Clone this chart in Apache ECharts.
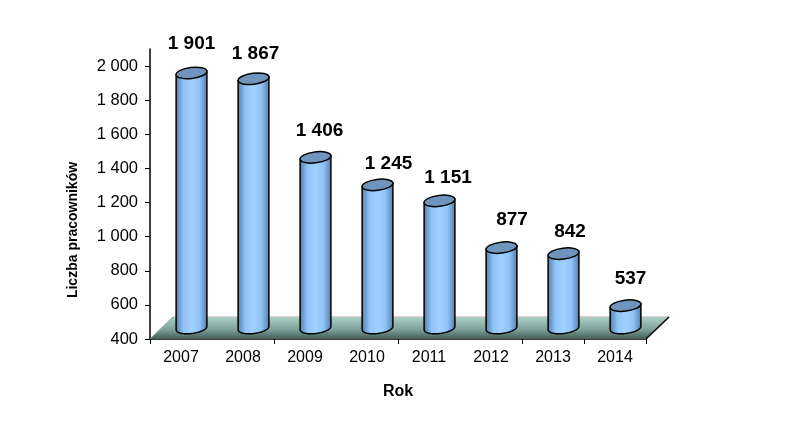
<!DOCTYPE html>
<html><head><meta charset="utf-8">
<style>html,body{margin:0;padding:0;background:#fff}#c{width:792px;height:439px}</style>
<script src="https://cdn.jsdelivr.net/npm/echarts@6/dist/echarts.min.js"></script>
</head><body><div id="c"></div>
<script>
const years = ['2007','2008','2009','2010','2011','2012','2013','2014'];
const employees = [1901,1867,1406,1245,1151,877,842,537];
const yTicks = [400,600,800,1000,1200,1400,1600,1800,2000];
const axisBase = 400;

const FONT = '"Liberation Sans", Arial, sans-serif';
const depth = {x: 23, y: 22};
const barShift = {x: 10.5, y: -10, baseY: -11};
const RX = 15.5, RY = 5.5, TILT = -7 * Math.PI / 180;
// hand placement of the value labels relative to the bar tops, as in the source
const labelNudge = [[0,-29],[2,-25],[4,-27],[11,-21],[8.5,-23],[10.5,-28],[6.5,-22],[5,-27]];

const fmt = v => String(v).replace(/\B(?=(\d{3})+$)/g, ' ');

function ellipsePt(cx, cy, t) {
  const ex = RX * Math.cos(t), ey = RY * Math.sin(t);
  return [cx + ex * Math.cos(TILT) - ey * Math.sin(TILT), cy + ex * Math.sin(TILT) + ey * Math.cos(TILT)];
}

function renderFloor(params, api) {
  const band = api.size([1, 0])[0];
  const c0 = api.coord([0, axisBase]), cN = api.coord([years.length - 1, axisBase]);
  const L = c0[0] - band / 2, R = cN[0] + band / 2, Y = c0[1];
  return {type: 'group', children: [
    {type: 'polygon', shape: {points: [[L,Y],[R,Y],[R+depth.x,Y-depth.y],[L+depth.x,Y-depth.y]]},
      style: {fill: {type:'linear',x:0,y:0,x2:0,y2:1,colorStops:[{offset:0,color:'#a9cfc7'},{offset:.55,color:'#7fa39b'},{offset:1,color:'#42605a'}]}, stroke:'none'}},
    {type: 'line', shape: {x1:L+depth.x,y1:Y-depth.y,x2:R+depth.x,y2:Y-depth.y}, style:{stroke:'#c4c4c4',lineWidth:1.5}},
    {type: 'line', shape: {x1:L,y1:Y,x2:L+depth.x,y2:Y-depth.y}, style:{stroke:'#8a9a96',lineWidth:1}},
    {type: 'line', shape: {x1:R,y1:Y,x2:R+depth.x,y2:Y-depth.y}, style:{stroke:'#000',lineWidth:1.5}}
  ]};
}

function renderCyl(params, api) {
  const i = api.value(0), v = api.value(1);
  const top = api.coord([i, v]), base = api.coord([i, axisBase]);
  const cx = top[0] + barShift.x, ty = top[1] + barShift.y, by = base[1] + barShift.baseY;
  const pts = [];
  pts.push(ellipsePt(cx, ty, Math.PI));
  for (let k = 0; k <= 40; k++) pts.push(ellipsePt(cx, by, Math.PI - k / 40 * Math.PI));
  pts.push(ellipsePt(cx, ty, 0));
  const n = labelNudge[i];
  return {type: 'group', children: [
    {type: 'polygon', shape: {points: pts},
      style: {fill: {type:'linear',x:0,y:0,x2:1,y2:0,colorStops:[
        {offset:0,color:'#4f7bab'},{offset:.25,color:'#8fc2f6'},{offset:.5,color:'#a3d1ff'},{offset:.75,color:'#8fc2f6'},{offset:1,color:'#4f7bab'}]},
        stroke:'#000', lineWidth:1.5}},
    {type: 'ellipse', x: cx, y: ty, rotation: -TILT, shape: {cx:0,cy:0,rx:RX,ry:RY},
      style: {fill:'#6f95bd', stroke:'#000', lineWidth:1.5}},
    {type: 'text', style: {text: fmt(v), x: cx + n[0], y: ty + n[1], fill:'#000', font: 'bold 19px ' + FONT, textAlign:'center', textVerticalAlign:'middle'}}
  ]};
}

const chart = echarts.init(document.getElementById('c'), null, {renderer:'canvas'});
chart.setOption({
  animation:false,
  backgroundColor:'#fff',
  grid:{left:150,right:146,top:49,bottom:100},
  graphic:[{type:'text',rotation:Math.PI/2,x:73,y:230,
    style:{text:'Liczba pracowników',fill:'#000',font:'bold 14px '+FONT,textAlign:'center',textVerticalAlign:'middle'}}],
  xAxis:{type:'category',data:years,
    name:'Rok',nameLocation:'middle',nameGap:45,
    nameTextStyle:{color:'#000',fontFamily:FONT,fontWeight:'bold',fontSize:16},
    axisLine:{lineStyle:{color:'#000',width:1.5}},
    axisTick:{show:true,interval:1,length:5,lineStyle:{color:'#000'}},
    axisLabel:{interval:0,color:'#000',fontFamily:FONT,fontSize:16,margin:11}},
  yAxis:{type:'value',min:400,max:2100,
    splitLine:{show:false},
    axisLine:{show:true,lineStyle:{color:'#000',width:1.5}},
    axisTick:{show:true,length:5,customValues:yTicks,lineStyle:{color:'#000'}},
    axisLabel:{customValues:yTicks,color:'#000',fontFamily:FONT,fontSize:16.5,margin:12,padding:[3,0,0,0],formatter:v=>fmt(v)}},
  series:[
    {type:'custom',z:1,clip:false,renderItem:renderFloor,data:[[0,axisBase]],encode:{x:0,y:1}},
    {type:'custom',z:3,clip:false,renderItem:renderCyl,data:employees.map((v,i)=>[i,v]),encode:{x:0,y:1}}
  ]
});
</script></body></html>
